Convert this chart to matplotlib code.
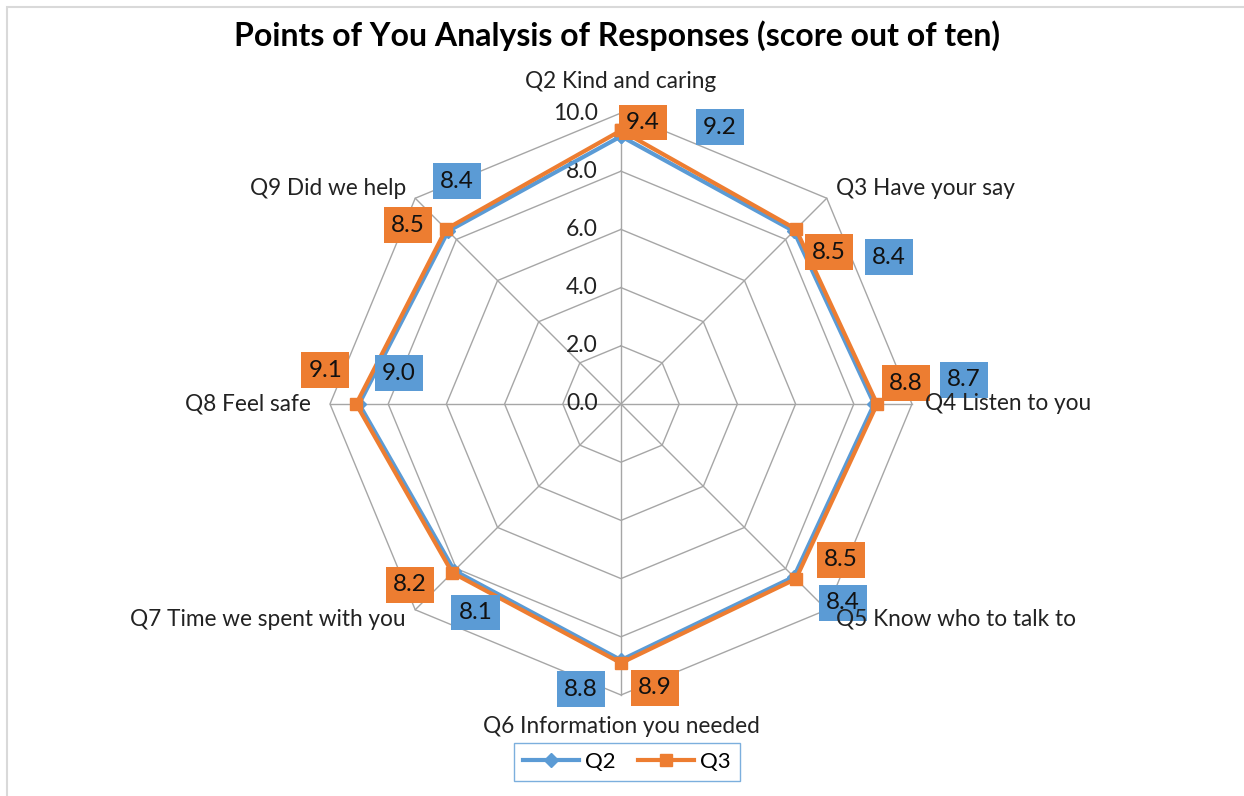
import numpy as np
import matplotlib.pyplot as plt
from matplotlib.patches import Rectangle
from matplotlib.lines import Line2D

plt.rcParams['font.family'] = ['Lato', 'DejaVu Sans']

categories = ["Q2 Kind and caring", "Q3 Have your say", "Q4 Listen to you",
              "Q5 Know who to talk to", "Q6 Information you needed",
              "Q7 Time we spent with you", "Q8 Feel safe", "Q9 Did we help"]
q2_scores = [9.2, 8.4, 8.7, 8.4, 8.8, 8.1, 9.0, 8.4]
q3_scores = [9.4, 8.5, 8.8, 8.5, 8.9, 8.2, 9.1, 8.5]
rings = [2.0, 4.0, 6.0, 8.0, 10.0]

BLUE = "#5B9BD5"
ORANGE = "#ED7D31"
GRID = "#A6A6A6"

# label offsets (pixels) from each point, as placed in the original chart
blue_off = [(99, 9), (95, -26), (90, 24), (49, -26), (-40, -29), (21, -42), (40, 31), (9, 50)]
orange_off = [(22, 8), (33, -23), (29, 21), (45, 19), (34, -25), (-42, -12), (-31, 34), (-38, 4)]

n = len(categories)
ang = np.pi / 2 - np.arange(n) * 2 * np.pi / n
cx, cy = np.cos(ang), np.sin(ang)

W, H = 1244, 796
fig = plt.figure(figsize=(W / 100, H / 100), dpi=100)
ax = fig.add_axes([0, 0, 1, 1])
scale = 29.1  # pixels per unit
ax.set_xlim(-621 / scale, (W - 621) / scale)
ax.set_ylim(-(H - 404) / scale, 404 / scale)
ax.axis("off")

# frame lines of the original chart area
ax.add_patch(Rectangle((0.0055, -0.1), 1.2, 1.091, transform=ax.transAxes,
                       fill=False, edgecolor="#D9D9D9", lw=1.5))

# polygon grid and spokes
for r in rings:
    ax.plot(np.append(cx, cx[0]) * r, np.append(cy, cy[0]) * r, color=GRID, lw=1, zorder=1)
for i in range(n):
    ax.plot([0, cx[i] * 10], [0, cy[i] * 10], color=GRID, lw=1, zorder=1)

# radial tick labels
for r in [0.0] + rings:
    ax.text(-0.8, r, f"{r:.1f}", ha="right", va="center", fontsize=16.5, color="#222222")

# series
def closed(v):
    v = np.array(v)
    return np.append(cx * v, cx[0] * v[0]), np.append(cy * v, cy[0] * v[0])

bx, by = closed(q2_scores)
ox, oy = closed(q3_scores)
ax.plot(bx, by, color=BLUE, lw=3, marker="D", ms=7, zorder=3)
ax.plot(ox, oy, color=ORANGE, lw=3, marker="s", ms=8, zorder=4)

for vals, offs, col in [(q2_scores, blue_off, BLUE), (q3_scores, orange_off, ORANGE)]:
    for i, v in enumerate(vals):
        ax.annotate(f"{v:.1f}", xy=(cx[i] * v, cy[i] * v), xytext=offs[i],
                    textcoords="offset pixels", ha="center", va="center",
                    fontsize=17.5, color="#111111", zorder=6,
                    bbox=dict(boxstyle="square,pad=0.3", fc=col, ec="none"))

# category labels
for i, lab in enumerate(categories):
    x, y = cx[i], cy[i]
    if abs(x) < 0.01:
        r = 11.07
        ha = "center"
    else:
        r = 10.45 if abs(y) > 0.01 or x > 0 else 10.65
        ha = "left" if x > 0 else "right"
    ax.text(x * r, y * r, lab, ha=ha, va="center", fontsize=16.3, color="#222222", zorder=7)

fig.text(0.496, 0.955, "Points of You Analysis of Responses (score out of ten)",
         ha="center", va="center", fontsize=23, fontweight="bold")

handles = [Line2D([], [], color=BLUE, lw=3, marker="D", ms=7),
           Line2D([], [], color=ORANGE, lw=3, marker="s", ms=8)]
leg = fig.legend(handles, ["Q2", "Q3"], loc="center", bbox_to_anchor=(0.504, 0.043),
                 ncol=2, fontsize=16, frameon=True, fancybox=False, handlelength=2.5,
                 columnspacing=1.0, handletextpad=0.3, borderpad=0.4)
leg.get_frame().set_edgecolor(BLUE)
leg.get_frame().set_linewidth(1)

fig.savefig("out.png", dpi=100)
